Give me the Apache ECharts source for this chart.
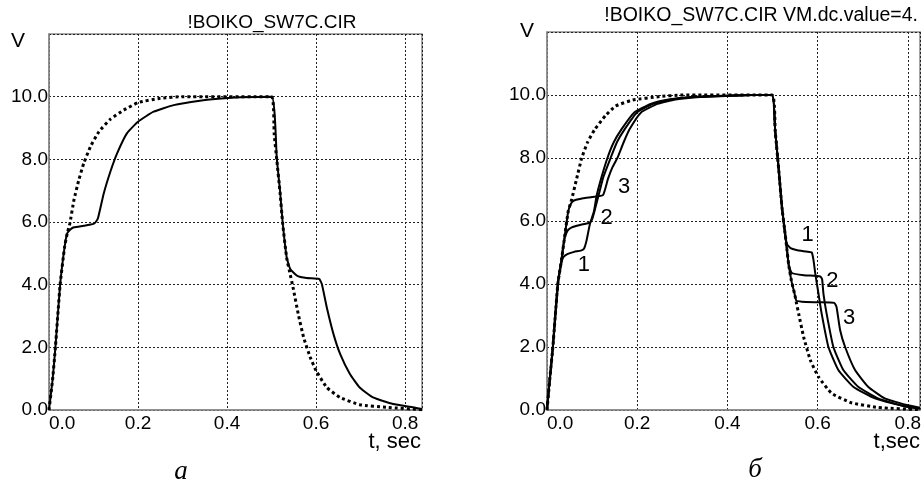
<!DOCTYPE html>
<html>
<head>
<meta charset="utf-8">
<script src="https://cdn.jsdelivr.net/npm/echarts@6/dist/echarts.min.js"></script>
<style>
  html, body { margin: 0; padding: 0; background: #ffffff; }
  #chart { width: 924px; height: 484px; }
</style>
</head>
<body>
<div id="chart"></div>
<script>
// Transient response of the switched RC circuit, time in seconds, voltage in volts.

// Panel "а": ideal exponential response (dotted) and the circuit output (solid)
const idealA = [
  [0, 0], [0.008, 0.96], [0.0145, 2.02], [0.025, 4.0], [0.035, 5.2], [0.041, 5.64],
  [0.047, 5.96], [0.056, 6.7], [0.067, 7.34], [0.078, 7.87], [0.093, 8.4], [0.112, 8.88],
  [0.138, 9.28], [0.168, 9.57], [0.2, 9.81], [0.25, 9.95], [0.302, 10], [0.5, 10],
  [0.506, 8.8], [0.512, 7.95], [0.519, 6.95], [0.525, 5.95], [0.534, 4.85], [0.54, 4.45],
  [0.549, 3.86], [0.56, 3.06], [0.572, 2.32], [0.587, 1.68], [0.6, 1.26], [0.624, 0.72],
  [0.654, 0.40], [0.698, 0.17], [0.758, 0.085], [0.838, 0.01]
];
const outputA = [
  [0, 0], [0.008, 0.96], [0.0145, 2.02], [0.025, 4.0], [0.035, 5.2], [0.041, 5.64],
  [0.048, 5.76], [0.056, 5.83], [0.078, 5.88], [0.1, 5.94], [0.105, 6.0], [0.11, 6.12],
  [0.123, 6.91], [0.138, 7.61], [0.153, 8.19], [0.175, 8.83], [0.2, 9.2], [0.235, 9.52],
  [0.28, 9.73], [0.339, 9.87], [0.38, 9.93], [0.43, 9.98], [0.5, 10], [0.512, 7.98],
  [0.519, 7.0], [0.525, 5.97], [0.534, 4.87], [0.542, 4.5], [0.557, 4.29], [0.579, 4.21],
  [0.607, 4.18], [0.613, 4.02], [0.624, 3.28], [0.639, 2.43], [0.654, 1.79], [0.676, 1.15],
  [0.698, 0.72], [0.728, 0.40], [0.773, 0.19], [0.818, 0.085], [0.838, 0.03]
];

// Panel "б": ideal response and the output for three comparator settings
const idealB = [
  [0, 0], [0.006, 0.95], [0.013, 2.0], [0.024, 4.0], [0.032, 4.75], [0.04, 5.6],
  [0.047, 6.3], [0.055, 6.7], [0.065, 7.3], [0.077, 8.0], [0.09, 8.5], [0.106, 8.91],
  [0.13, 9.35], [0.152, 9.65], [0.19, 9.84], [0.25, 9.95], [0.3, 10], [0.499, 10],
  [0.506, 8.86], [0.514, 7.6], [0.521, 6.43], [0.528, 5.59], [0.532, 5.1], [0.536, 4.6],
  [0.542, 4.1], [0.549, 3.69], [0.553, 3.4], [0.558, 3.06], [0.569, 2.32], [0.584, 1.58],
  [0.602, 1.05], [0.631, 0.53], [0.675, 0.23], [0.734, 0.08], [0.827, 0.01]
];
const outputB1 = [
  [0, 0], [0.006, 0.95], [0.013, 2.0], [0.024, 4.0], [0.031, 4.6], [0.036, 4.85],
  [0.045, 4.95], [0.06, 5.02], [0.075, 5.06], [0.082, 5.12], [0.088, 5.4], [0.095, 5.9],
  [0.104, 6.3], [0.11, 6.8], [0.12, 7.35], [0.134, 8.0], [0.148, 8.5], [0.165, 8.91],
  [0.193, 9.44], [0.23, 9.72], [0.27, 9.86], [0.32, 9.94], [0.4, 9.98], [0.45, 10],
  [0.499, 10], [0.506, 8.86], [0.514, 7.6], [0.521, 6.43], [0.528, 5.59], [0.532, 5.27],
  [0.54, 5.14], [0.553, 5.08], [0.575, 5.03], [0.587, 5.0], [0.591, 4.75], [0.595, 4.32],
  [0.602, 3.69], [0.609, 3.06], [0.624, 2.0], [0.646, 1.27], [0.679, 0.74], [0.727, 0.37],
  [0.793, 0.12], [0.827, 0.05]
];
const outputB2 = [
  [0, 0], [0.006, 0.95], [0.013, 2.0], [0.024, 4.0], [0.032, 4.75], [0.036, 5.2],
  [0.04, 5.5], [0.046, 5.7], [0.055, 5.8], [0.075, 5.88], [0.095, 5.95], [0.1, 6.05],
  [0.106, 6.35], [0.115, 6.85], [0.125, 7.4], [0.141, 8.0], [0.155, 8.5], [0.172, 8.91],
  [0.199, 9.44], [0.235, 9.72], [0.275, 9.86], [0.33, 9.94], [0.4, 9.98], [0.45, 10],
  [0.499, 10], [0.506, 8.86], [0.514, 7.6], [0.521, 6.43], [0.528, 5.59], [0.532, 5.1],
  [0.536, 4.6], [0.543, 4.35], [0.57, 4.28], [0.606, 4.24], [0.61, 4.15], [0.613, 3.69],
  [0.62, 3.06], [0.635, 2.0], [0.657, 1.27], [0.69, 0.74], [0.734, 0.37], [0.79, 0.13],
  [0.827, 0.05]
];
const outputB3 = [
  [0, 0], [0.006, 0.95], [0.013, 2.0], [0.024, 4.0], [0.032, 4.75], [0.04, 5.6],
  [0.047, 6.3], [0.053, 6.55], [0.06, 6.65], [0.08, 6.72], [0.1, 6.76], [0.124, 6.82],
  [0.135, 7.33], [0.145, 7.7], [0.156, 8.0], [0.17, 8.5], [0.183, 8.91], [0.208, 9.44],
  [0.245, 9.72], [0.285, 9.86], [0.34, 9.94], [0.41, 9.98], [0.46, 10], [0.499, 10],
  [0.506, 8.86], [0.514, 7.6], [0.521, 6.43], [0.528, 5.59], [0.532, 5.1], [0.536, 4.6],
  [0.542, 4.1], [0.549, 3.69], [0.553, 3.47], [0.565, 3.44], [0.6, 3.42], [0.637, 3.4],
  [0.642, 3.27], [0.65, 2.53], [0.661, 2.0], [0.683, 1.27], [0.712, 0.74], [0.749, 0.37],
  [0.8, 0.15], [0.827, 0.07]
];

// Curve numbers written next to the traces of panel "б"
const curveTags = ['1', '2', '3', '1', '2', '3'];
const curveTagT = [0.082, 0.132, 0.171, 0.578, 0.633, 0.670];
const curveTagV = [4.59, 6.09, 7.07, 5.57, 4.11, 2.91];

// Axis ranges and tick steps
const timeMaxA = 0.838;
const timeMaxB = 0.827;
const timeStep = 0.2;
const voltMax = 12;
const voltStep = 2;

const sans = '"Liberation Sans", Arial, sans-serif';
const serif = '"Liberation Serif", "Times New Roman", serif';
const frameGray = '#8a8a8a';

function xAxisFor(gridIndex, max) {
  return {
    type: 'value', gridIndex: gridIndex, min: 0, max: max, interval: timeStep,
    axisLine: { show: true, onZero: false, lineStyle: { color: frameGray, width: 1.5 } },
    axisTick: { show: false },
    axisLabel: {
      show: true, color: '#000', fontFamily: sans, fontSize: 19, margin: 4,
      showMaxLabel: false, alignMinLabel: 'left',
      formatter: function (v) { return v.toFixed(1); }
    },
    splitLine: { show: true, lineStyle: { color: '#222', width: 1, type: [2, 2] } }
  };
}
function yAxisFor(gridIndex) {
  return {
    type: 'value', gridIndex: gridIndex, min: 0, max: voltMax, interval: voltStep,
    axisLine: { show: true, lineStyle: { color: frameGray, width: 1.5 } },
    axisTick: { show: false },
    axisLabel: {
      show: true, color: '#000', fontFamily: sans, fontSize: 19, margin: 1,
      showMaxLabel: false,
      formatter: function (v) { return v.toFixed(1); }
    },
    splitLine: { show: true, lineStyle: { color: '#222', width: 1, type: [2, 2] } }
  };
}
function solid(data, xi) {
  return {
    type: 'line', data: data, xAxisIndex: xi, yAxisIndex: xi,
    showSymbol: false, symbol: 'none', smooth: 0.15, silent: true,
    lineStyle: { color: '#000', width: 2 }, z: 3
  };
}
function dotted(data, xi) {
  return {
    type: 'line', data: data, xAxisIndex: xi, yAxisIndex: xi,
    showSymbol: false, symbol: 'none', smooth: 0.15, silent: true,
    lineStyle: { color: '#000', width: 3, type: [3, 3] }, z: 4
  };
}

const tagData = curveTags.map(function (name, i) {
  return { name: name, value: [curveTagT[i], curveTagV[i]] };
});

const chart = echarts.init(document.getElementById('chart'), null, { renderer: 'canvas' });
chart.setOption({
  animation: false,
  backgroundColor: '#ffffff',
  grid: [
    { left: 49, top: 34, width: 373, height: 376, show: true, borderColor: frameGray, borderWidth: 1.5, containLabel: false },
    { left: 547, top: 32, width: 375, height: 378, show: true, borderColor: frameGray, borderWidth: 1.5, containLabel: false }
  ],
  xAxis: [xAxisFor(0, timeMaxA), xAxisFor(1, timeMaxB)],
  yAxis: [yAxisFor(0), yAxisFor(1)],
  series: [
    solid(outputA, 0),
    dotted(idealA, 0),
    solid(outputB1, 1),
    solid(outputB2, 1),
    solid(outputB3, 1),
    dotted(idealB, 1),
    {
      type: 'scatter', xAxisIndex: 1, yAxisIndex: 1, data: tagData,
      symbolSize: 0, silent: true, z: 5,
      itemStyle: { opacity: 1, color: '#000' },
      label: {
        show: true, position: 'inside', formatter: '{b}',
        color: '#000', fontFamily: sans, fontSize: 22,
        textBorderWidth: 0, opacity: 1
      }
    }
  ],
  graphic: [
    { type: 'text', x: 272, y: 23, style: { text: '!BOIKO_SW7C.CIR', fill: '#000', font: '19px ' + sans, textAlign: 'center', textVerticalAlign: 'middle' } },
    { type: 'text', x: 918, y: 16, style: { text: '!BOIKO_SW7C.CIR VM.dc.value=4.', fill: '#000', font: '19.5px ' + sans, textAlign: 'right', textVerticalAlign: 'middle' } },
    { type: 'text', x: 18, y: 41, style: { text: 'V', fill: '#000', font: '21px ' + sans, textAlign: 'center', textVerticalAlign: 'middle' } },
    { type: 'text', x: 527, y: 31, style: { text: 'V', fill: '#000', font: '21px ' + sans, textAlign: 'center', textVerticalAlign: 'middle' } },
    { type: 'text', x: 421, y: 442, style: { text: 't, sec', fill: '#000', font: '22px ' + sans, textAlign: 'right', textVerticalAlign: 'middle' } },
    { type: 'text', x: 920, y: 442, style: { text: 't,sec', fill: '#000', font: '22px ' + sans, textAlign: 'right', textVerticalAlign: 'middle' } },
    { type: 'text', x: 181, y: 472, style: { text: 'а', fill: '#000', font: 'italic 27px ' + serif, textAlign: 'center', textVerticalAlign: 'middle' } },
    { type: 'text', x: 755, y: 470, style: { text: 'б', fill: '#000', font: 'italic 27px ' + serif, textAlign: 'center', textVerticalAlign: 'middle' } }
  ]
});
</script>
</body>
</html>
